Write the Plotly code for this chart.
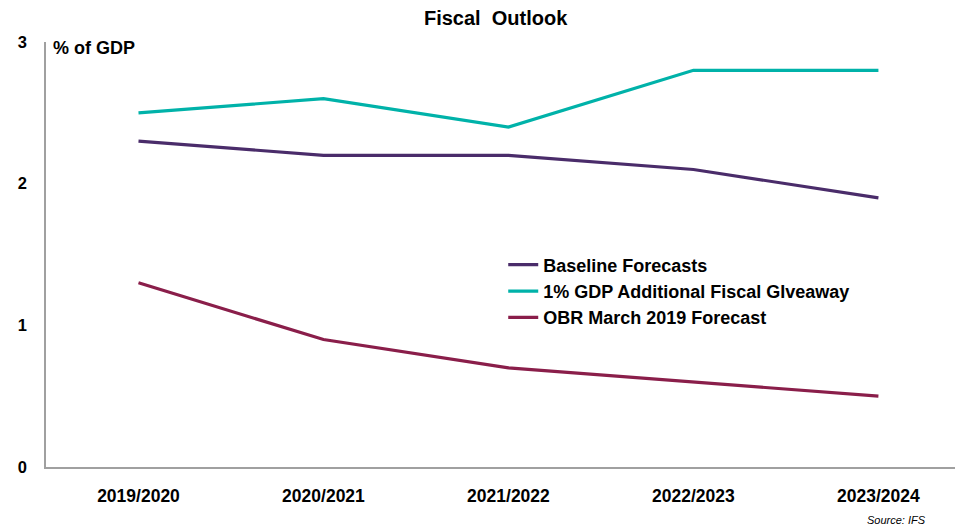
import plotly.graph_objects as go

# Fiscal years on the horizontal axis
years = ["2019/2020", "2020/2021", "2021/2022", "2022/2023", "2023/2024"]

# Borrowing paths, % of GDP
baseline = [2.3, 2.2, 2.2, 2.1, 1.9]
giveaway = [2.5, 2.6, 2.4, 2.8, 2.8]
obr_march_2019 = [1.3, 0.9, 0.7, 0.6, 0.5]

series_names = [
    "Baseline Forecasts",
    "1% GDP Additional Fiscal GIveaway",
    "OBR March 2019 Forecast",
]
series_values = [baseline, giveaway, obr_march_2019]
series_colors = ["#4A2C6A", "#00B2A9", "#8A1E4A"]

y_ticks = [0, 1, 2, 3]

fig = go.Figure()
xs = list(range(len(years)))
for name, vals, col in zip(series_names, series_values, series_colors):
    fig.add_trace(go.Scatter(
        x=xs, y=vals, name=f"<b>{name}</b>", mode="lines",
        line=dict(color=col, width=3.2),
    ))

fig.update_layout(
    width=955, height=526,
    margin=dict(l=46, r=0, t=42, b=59),
    paper_bgcolor="white", plot_bgcolor="white",
    font=dict(family="Liberation Sans, Arial, sans-serif", color="black"),
    title=dict(
        text="<b>Fiscal  Outlook</b>", x=0.519, xanchor="center",
        y=0.965, yanchor="middle", font=dict(size=20, color="black"),
    ),
    showlegend=True,
    legend=dict(
        x=0.503, y=0.519, xanchor="left", yanchor="top",
        font=dict(size=18, color="black", family="Liberation Sans, Arial, sans-serif"),
        bgcolor="rgba(0,0,0,0)", tracegroupgap=0, itemwidth=30,
        traceorder="normal",
    ),
    xaxis=dict(
        range=[-0.5, 4.414], tickmode="array", tickvals=xs,
        ticktext=[f"<b>{y}</b>" for y in years],
        tickfont=dict(size=17.5),
        showgrid=False, zeroline=False, showline=True,
        linecolor="#A0A0A0", linewidth=2, ticks="", ticklabelstandoff=12,
    ),
    yaxis=dict(
        range=[0, 3], tickmode="array", tickvals=y_ticks,
        ticktext=[f"<b>{t}</b>" for t in y_ticks],
        tickfont=dict(size=16.5),
        showgrid=False, zeroline=False, showline=True,
        linecolor="#A0A0A0", linewidth=1.5, ticks="", ticklabelstandoff=14,
    ),
    annotations=[
        dict(text="<b>% of GDP</b>", xref="paper", yref="paper", x=0.005, y=0.985,
             xanchor="left", yanchor="middle", showarrow=False,
             font=dict(size=18, color="black")),
        dict(text="<i>Source: IFS</i>", xref="paper", yref="paper", x=0.97, y=-0.125,
             xanchor="right", yanchor="middle", showarrow=False,
             font=dict(size=11, color="black")),
    ],
)

fig.write_html("out.html")
